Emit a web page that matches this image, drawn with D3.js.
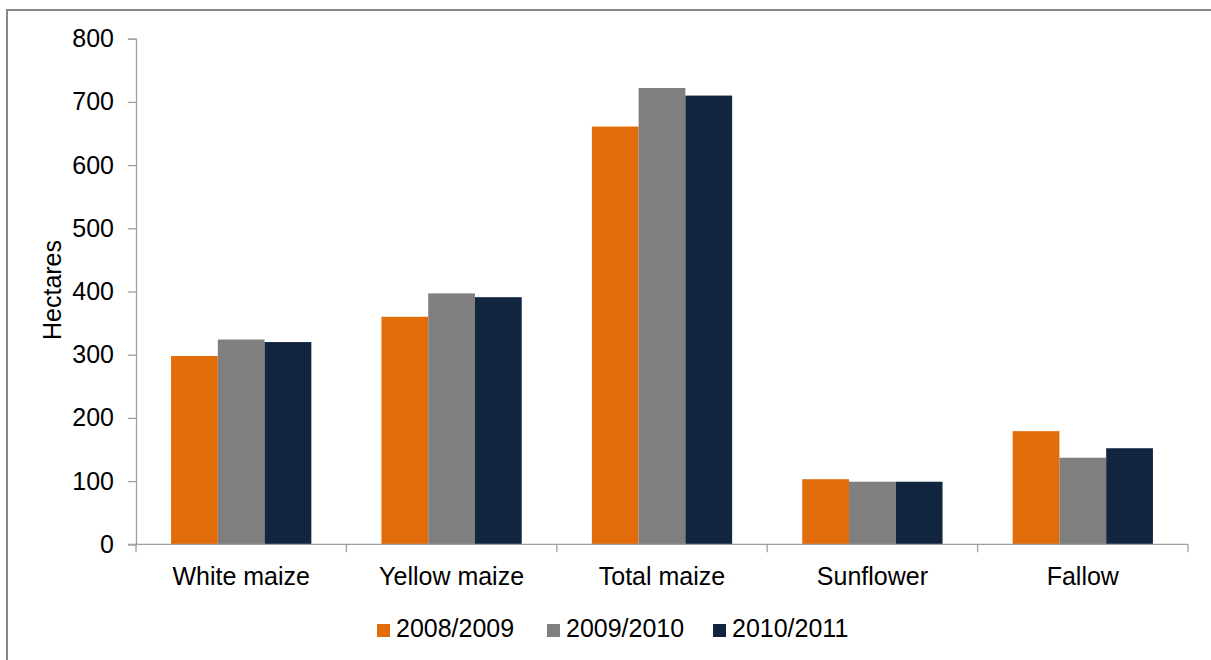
<!DOCTYPE html>
<html>
<head>
<meta charset="utf-8">
<script src="https://cdn.jsdelivr.net/npm/d3@7"></script>
<style>
  body { margin: 0; background: #fff; }
  text { font-family: "Liberation Sans", Arial, sans-serif; fill: #000; }
</style>
</head>
<body>
<div id="chart"></div>
<script>
// Categories, series and tick values.
let categories = ["White maize", "Yellow maize", "Total maize", "Sunflower", "Fallow"];
let seriesNames = ["2008/2009", "2009/2010", "2010/2011"];
let values2008 = [298, 360, 661, 103, 179];
let values2009 = [324, 397, 722, 99, 137];
let values2010 = [320, 391, 710, 99, 152];
let yTicks = [0, 100, 200, 300, 400, 500, 600, 700, 800];

let colors = ["#e36c0a", "#7f7f7f", "#11253f"];
let series = [values2008, values2009, values2010];

let W = 1211, H = 660;
let margin = {top: 38.7, left: 136, right: 23, bottom: 115.7};
let width = W - margin.left - margin.right,
    height = H - margin.top - margin.bottom;
let fontSize = "25px";

let svg = d3.select("#chart")
            .append("svg")
            .attr("width", W)
            .attr("height", H);

// Frame around the chart (only left and top visible in the crop).
svg.append("rect")
   .attr("x", 7)
   .attr("y", 10)
   .attr("width", W + 20)
   .attr("height", H + 20)
   .attr("fill", "none")
   .attr("stroke", "#878787")
   .attr("stroke-width", 2);

let g = svg.append("g")
           .attr("transform", "translate(" + margin.left + "," + margin.top + ")");

let x0 = d3.scaleBand()
           .domain(categories)
           .range([0, width])
           .paddingInner(0)
           .paddingOuter(0);

// Excel-style gap: 150% of a bar width split around each group.
let x1 = d3.scaleBand()
           .domain(d3.range(seriesNames.length))
           .range([x0.bandwidth() * 1.5 / 9, x0.bandwidth() * (1 - 1.5 / 9)]);

let y = d3.scaleLinear()
          .domain([0, 800])
          .range([height, 0]);

// Bars.
categories.forEach(function(c, i) {
    series.forEach(function(s, j) {
        g.append("rect")
         .attr("x", x0(c) + x1(j))
         .attr("y", y(s[i]))
         .attr("width", x1.bandwidth())
         .attr("height", y(0) - y(s[i]))
         .attr("fill", colors[j]);
    });
});

// Y axis.
let yAxis = g.append("g")
             .call(d3.axisLeft(y).tickValues(yTicks).tickSize(8).tickPadding(14));
yAxis.select(".domain").attr("stroke", "#a0a0a0").attr("stroke-width", 1.3);
yAxis.selectAll(".tick line").attr("stroke", "#a0a0a0").attr("stroke-width", 1.3);
yAxis.selectAll(".tick text")
     .style("font-size", fontSize)
     .style("font-family", "Liberation Sans, Arial, sans-serif")
     .attr("fill", "#000");

// X axis with ticks at band boundaries.
let xAxis = g.append("g")
             .attr("transform", "translate(0," + height + ")");
xAxis.append("line")
     .attr("x1", -8).attr("x2", width)
     .attr("stroke", "#a0a0a0").attr("stroke-width", 1.3);
xAxis.selectAll(".btick")
     .data(d3.range(categories.length + 1))
     .enter()
     .append("line")
     .attr("x1", function(d) { return d * x0.step(); })
     .attr("x2", function(d) { return d * x0.step(); })
     .attr("y1", 0).attr("y2", 8)
     .attr("stroke", "#a0a0a0").attr("stroke-width", 1.3);
xAxis.selectAll(".clabel")
     .data(categories)
     .enter()
     .append("text")
     .attr("x", function(d) { return x0(d) + x0.bandwidth() / 2; })
     .attr("y", 40.7)
     .attr("text-anchor", "middle")
     .style("font-size", fontSize)
     .text(function(d) { return d; });

// Y axis title.
svg.append("text")
   .attr("transform", "translate(61,290) rotate(-90)")
   .attr("text-anchor", "middle")
   .style("font-size", fontSize)
   .text("Hectares");

// Legend.
let legendX = [377, 547, 713];
seriesNames.forEach(function(name, j) {
    svg.append("rect")
       .attr("x", legendX[j])
       .attr("y", 624)
       .attr("width", 13)
       .attr("height", 13)
       .attr("fill", colors[j]);
    svg.append("text")
       .attr("x", legendX[j] + 19)
       .attr("y", 637)
       .style("font-size", fontSize)
       .text(name);
});
</script>
</body>
</html>
